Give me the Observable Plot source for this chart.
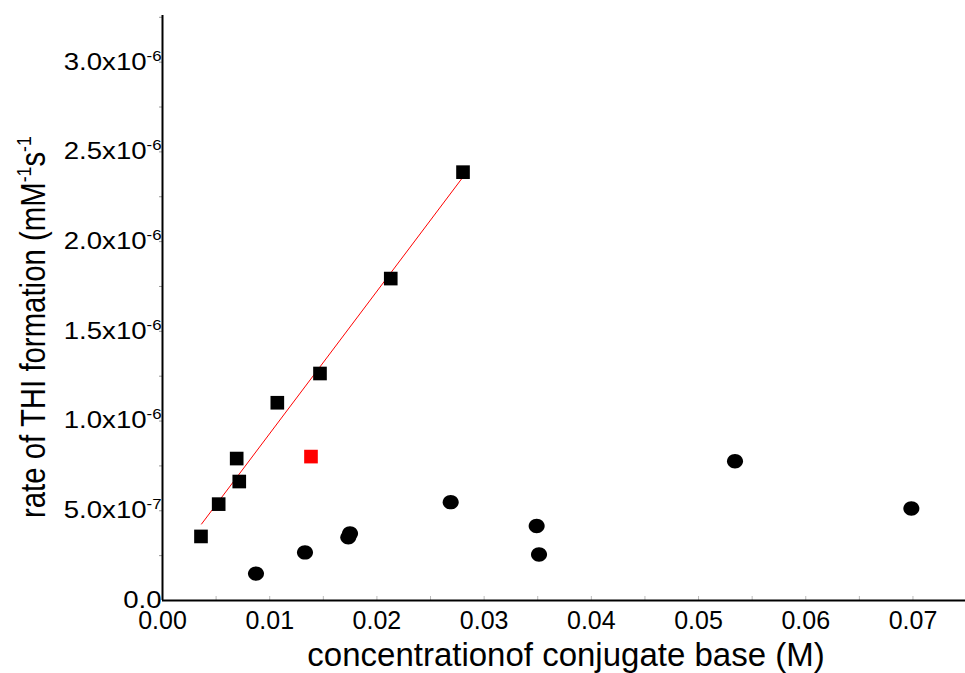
<!DOCTYPE html>
<html>
<head>
<meta charset="utf-8">
<script src="https://cdn.jsdelivr.net/npm/d3@7"></script>
<script src="https://cdn.jsdelivr.net/npm/@observablehq/plot@0.6"></script>
<style>
  html, body { margin: 0; padding: 0; background: #fff; }
  #chart svg { display: block; font-family: "Liberation Sans", Arial, sans-serif; }
</style>
</head>
<body>
<div id="chart"></div>
<script>
// Squares (fitted series)
const squareX = [0.00359, 0.00524, 0.00716, 0.00692, 0.01071, 0.01469, 0.02129, 0.02803];
const squareY = [0.357e-6, 0.537e-6, 0.663e-6, 0.791e-6, 1.102e-6, 1.265e-6, 1.794e-6, 2.387e-6];
// Outlier (red square)
const redX = [0.01385];
const redY = [0.802e-6];
// Circles
const circleX = [0.00872, 0.01329, 0.01749, 0.01733, 0.02688, 0.03490, 0.03512, 0.0534, 0.06985];
const circleY = [0.150e-6, 0.268e-6, 0.374e-6, 0.352e-6, 0.548e-6, 0.415e-6, 0.256e-6, 0.776e-6, 0.513e-6];
// Linear fit line endpoints
const fitX = [0.00364, 0.02803];
const fitY = [0.426e-6, 2.360e-6];
// Ticks
const xTicks = [0, 0.01, 0.02, 0.03, 0.04, 0.05, 0.06, 0.07];
const xMinorTicks = [0.005, 0.01, 0.015, 0.02, 0.025, 0.03, 0.035, 0.04, 0.045, 0.05, 0.055, 0.06, 0.065, 0.07];
const yTicks = [0, 0.5e-6, 1.0e-6, 1.5e-6, 2.0e-6, 2.5e-6, 3.0e-6];
const yMinorTicks = [0.25e-6, 0.75e-6, 1.25e-6, 1.75e-6, 2.25e-6, 2.75e-6, 3.25e-6];
const xTitle = "concentrationof conjugate base (M)";
const yTitleParts = ["rate of THI formation (mM", "-1", "s", "-1"];

const squares = squareX.map((x, i) => ({x, y: squareY[i]}));
const reds = redX.map((x, i) => ({x, y: redY[i]}));
const circles = circleX.map((x, i) => ({x, y: circleY[i]}));
const fit = fitX.map((x, i) => ({x, y: fitY[i]}));

const ellipse = {
  draw(ctx, size) {
    const r = Math.sqrt(size / Math.PI);
    const rx = r * 1.07, ry = r * 0.96, k = 0.5523;
    ctx.moveTo(rx, 0);
    ctx.bezierCurveTo(rx, ry * k, rx * k, ry, 0, ry);
    ctx.bezierCurveTo(-rx * k, ry, -rx, ry * k, -rx, 0);
    ctx.bezierCurveTo(-rx, -ry * k, -rx * k, -ry, 0, -ry);
    ctx.bezierCurveTo(rx * k, -ry, rx, -ry * k, rx, 0);
    ctx.closePath();
  }
};

function yFmt(d) {
  if (d === 0) return "0.0";
  const [m, e] = d.toExponential(1).split("e");
  return m + "x10^" + String(+e);
}

const chart = Plot.plot({
  width: 965,
  height: 673,
  marginLeft: 162,
  marginRight: 0,
  marginTop: 15,
  marginBottom: 73,
  style: {fontFamily: "Liberation Sans, Arial, sans-serif", background: "#fff", color: "#000"},
  x: {domain: [0, 0.0749], axis: null},
  y: {domain: [0, 3.26e-6], axis: null},
  marks: [
    Plot.axisX({ticks: xMinorTicks, tickSize: -4, tickFormat: () => "", stroke: "#bbb", label: null}),
    Plot.axisY({ticks: yMinorTicks.concat(yTicks.slice(1)), tickSize: 3, tickFormat: () => "", stroke: "#999", label: null}),
    Plot.axisX({ticks: xTicks, tickSize: 0, tickPadding: 11, fontSize: 25, tickFormat: d3.format(".2f"), fill: "#000", label: null}),
    Plot.axisY({ticks: yTicks, tickSize: 0, tickPadding: 1, fontSize: 23, tickFormat: yFmt, fill: "#000", label: null}),
    Plot.ruleY([0], {stroke: "#000", strokeWidth: 2}),
    Plot.ruleX([0], {stroke: "#000", strokeWidth: 2}),
    Plot.line(fit, {x: "x", y: "y", stroke: "#ff0000", strokeWidth: 1}),
    Plot.dot(squares, {x: "x", y: "y", symbol: "square", r: 7.7, fill: "#000", stroke: "none"}),
    Plot.dot(reds, {x: "x", y: "y", symbol: "square", r: 7.7, fill: "#ff0000", stroke: "none"}),
    Plot.dot(circles, {x: "x", y: "y", symbol: ellipse, r: 7.5, fill: "#000", stroke: "none"})
  ]
});

document.getElementById("chart").appendChild(chart);
const svg = d3.select(chart);

// Superscripts in y tick labels, slightly widened
svg.selectAll('g[aria-label="y-axis tick label"] text').each(function () {
  const t = d3.select(this);
  const s = t.text();
  if (!s.includes("^")) return;
  const [base, sup] = s.split("^");
  t.text(null);
  t.append("tspan").text(base);
  t.append("tspan").attr("dy", "-9").attr("font-size", 14).text(sup);
});
svg.selectAll('g[aria-label="y-axis tick label"] text').each(function () {
  const t = d3.select(this);
  const tr = t.attr("transform");
  if (tr) t.attr("transform", tr + " scale(1.2,1)");
});

// Axis titles
svg.append("text")
  .attr("x", 566).attr("y", 666)
  .attr("text-anchor", "middle")
  .attr("font-size", 33)
  .attr("fill", "#000")
  .text(xTitle);

const yt = svg.append("text")
  .attr("text-anchor", "start")
  .attr("font-size", 35)
  .attr("fill", "#000");
yt.append("tspan").text(yTitleParts[0]);
yt.append("tspan").attr("dy", -14).attr("font-size", 21).text(yTitleParts[1]);
yt.append("tspan").attr("dy", 14).attr("font-size", 35).text(yTitleParts[2]);
yt.append("tspan").attr("dy", -14).attr("font-size", 21).text(yTitleParts[3]);
const len = yt.node().getComputedTextLength();
const sx = len > 0 ? 382 / len : 0.84;
yt.attr("transform", `translate(45,518) rotate(-90) scale(${sx},1)`);
</script>
</body>
</html>
